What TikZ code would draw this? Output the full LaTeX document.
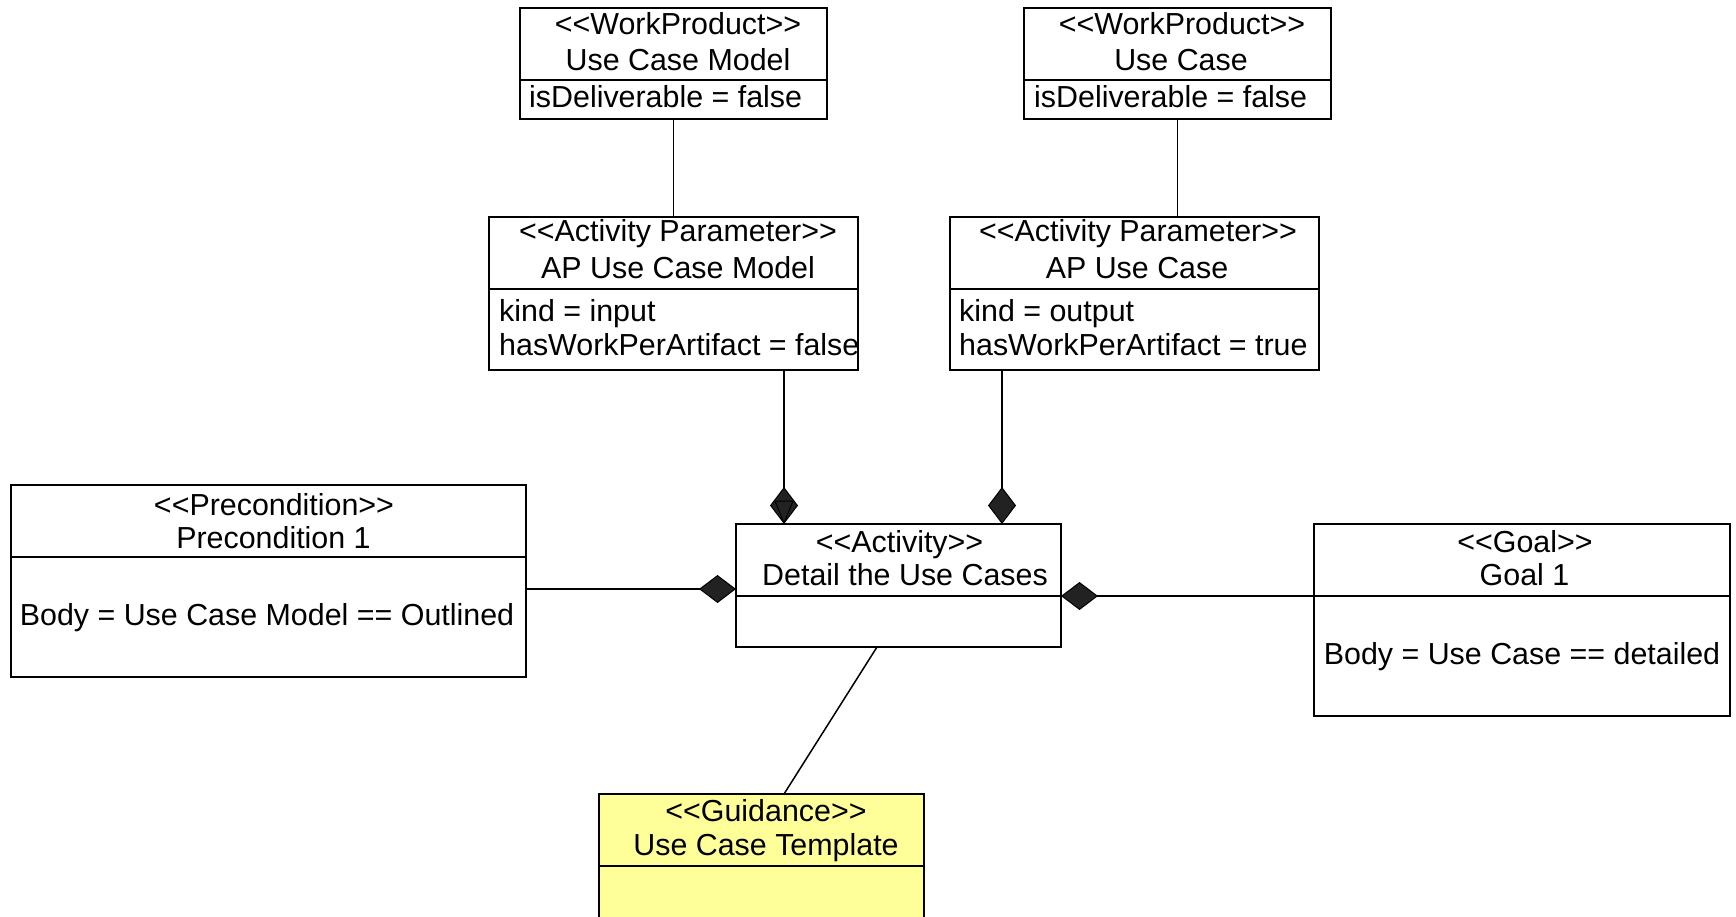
\documentclass[tikz,border=0pt]{standalone}
\usepackage{fontspec}
\setmainfont{Liberation Sans}
\usetikzlibrary{arrows.meta}
\definecolor{guidefill}{HTML}{FFFF99}
\definecolor{diafill}{HTML}{222222}
\tikzset{
  umlbox/.style={draw=black, line width=1.6pt, inner sep=0pt, outer sep=0pt, fill=white},
  compline/.style={draw=black, line width=1.6pt},
  conn/.style={draw=black, line width=1.5pt},
  dia/.style={-{Diamond[length=37pt,width=28pt,fill=diafill,line width=1pt]}},
  diarev/.style={{Diamond[length=37pt,width=28pt,fill=diafill,line width=1pt]}-},
  txt/.style={font=\fontsize{30.4}{35}\selectfont, inner sep=0pt, anchor=base},
  attr/.style={txt, anchor=base west}
}
\newcommand\stereo[1]{<{}<#1>{}>}
\newcommand\mybox[6][]{\node[umlbox,#1, minimum width={#5-#3}, minimum height={#6-#4}] (#2) at ({(#3+#5)/2},{(#4+#6)/2}) {};}
\begin{document}
\begin{tikzpicture}[x=1pt,y=-1pt]
\useasboundingbox (0,0) rectangle (1736,917);
\fill[white] (0,0) rectangle (1736,917);

% boxes
\mybox{ucm}{520}{8}{827}{119}
\mybox{uc}{1024}{8}{1331}{119}
\mybox{apucm}{489}{217}{858}{370}
\mybox{apuc}{950}{217}{1319}{370}
\mybox{act}{736}{524}{1061}{647}
\mybox{pre}{11}{485}{526}{677}
\mybox{goal}{1314}{524}{1730}{716}
\mybox[fill=guidefill]{guid}{599}{794}{924}{930}

% compartment lines
\draw[compline] (ucm.west |- 0,80) -- (ucm.east |- 0,80);
\draw[compline] (uc.west |- 0,80) -- (uc.east |- 0,80);
\draw[compline] (apucm.west |- 0,289) -- (apucm.east |- 0,289);
\draw[compline] (apuc.west |- 0,289) -- (apuc.east |- 0,289);
\draw[compline] (act.west |- 0,596) -- (act.east |- 0,596);
\draw[compline] (pre.west |- 0,557) -- (pre.east |- 0,557);
\draw[compline] (goal.west |- 0,596) -- (goal.east |- 0,596);
\draw[compline] (guid.west |- 0,866) -- (guid.east |- 0,866);

% texts
\node[txt] (t-ucm1) at (678,35) {\stereo{WorkProduct}};
\node[txt] (t-ucm2) at (678,70.7) {Use Case Model};
\node[attr] (t-ucm3) at (529,107.3) {isDeliverable = false};

\node[txt] (t-uc1) at (1182,35) {\stereo{WorkProduct}};
\node[txt] (t-uc2) at (1181,70.7) {Use Case};
\node[attr] (t-uc3) at (1034,107.3) {isDeliverable = false};

\node[txt] (t-apucm1) at (678,242) {\stereo{Activity Parameter}};
\node[txt] (t-apucm2) at (678,278) {AP Use Case Model};
\node[attr] (t-apucm3) at (499,321.7) {kind = input};
\node[attr] (t-apucm4) at (499,355) {hasWorkPerArtifact = false};

\node[txt] (t-apuc1) at (1138,242) {\stereo{Activity Parameter}};
\node[txt] (t-apuc2) at (1137,278) {AP Use Case};
\node[attr] (t-apuc3) at (959,321.7) {kind = output};
\node[attr] (t-apuc4) at (959,355) {hasWorkPerArtifact = true};

\node[txt] (t-act1) at (899.5,552) {\stereo{Activity}};
\node[txt] (t-act2) at (905,585) {Detail the Use Cases};

\node[txt] (t-pre1) at (274,515) {\stereo{Precondition}};
\node[txt] (t-pre2) at (273.5,548) {Precondition 1};
\node[txt] (t-pre3) at (267,625) {Body = Use Case Model == Outlined};

\node[txt] (t-goal1) at (1525,552) {\stereo{Goal}};
\node[txt] (t-goal2) at (1524.5,585) {Goal 1};
\node[txt] (t-goal3) at (1522,664) {Body = Use Case == detailed};

\node[txt] (t-guid1) at (766,821.7) {\stereo{Guidance}};
\node[txt] (t-guid2) at (766,855) {Use Case Template};

% connectors
\coordinate (xa) at (784,0);
\coordinate (xb) at (1002,0);
\coordinate (xc) at (877,0);
\coordinate (xd) at (784,0);
\coordinate (ypre) at (0,589);
\coordinate (ygoal) at (0,596);

\draw[conn] (ucm.south) -- (ucm.south |- apucm.north);
\draw[conn] (uc.south) -- (uc.south |- apuc.north);
\draw[conn,dia] (apucm.south -| xa) -- (act.north -| xa);
\draw[conn,dia] (apuc.south -| xb) -- (act.north -| xb);
\draw[black, line width=1pt] (775,501) -- (793,501) -- (784,523) -- cycle;
\draw[conn,dia] (pre.east |- ypre) -- (act.west |- ypre);
\draw[conn,diarev] (act.east |- ygoal) -- (goal.west |- ygoal);
\draw[conn] (act.south -| xc) -- (guid.north -| xd);
\end{tikzpicture}
\end{document}
